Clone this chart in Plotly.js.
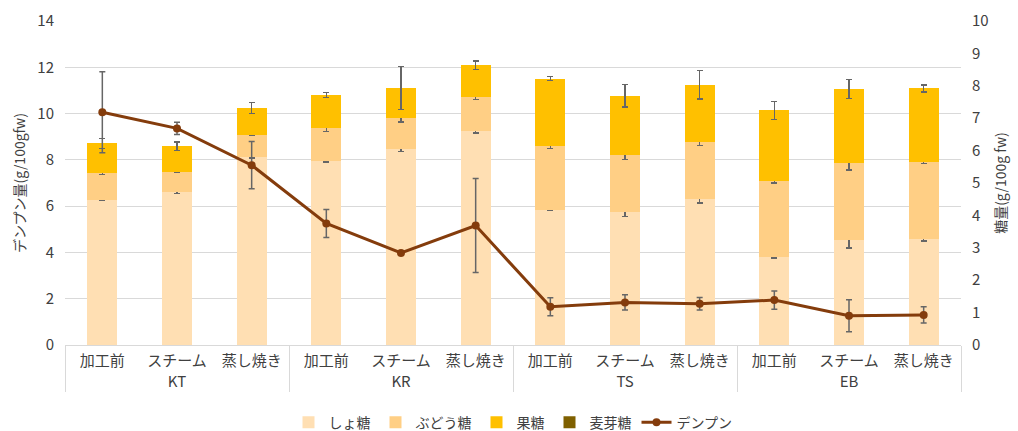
<!DOCTYPE html>
<html>
<head>
<meta charset="utf-8">
<script src="https://cdn.plot.ly/plotly-3.0.1.min.js"></script>
<style>body{margin:0;padding:0;background:#fff;} #chart{width:1018px;height:431px;}</style>
</head>
<body>
<div id="chart"></div>
<script>
// Data
const groups  = ['KT','KT','KT','KR','KR','KR','TS','TS','TS','EB','EB','EB'];
const methods = ['加工前','スチーム','蒸し焼き','加工前','スチーム','蒸し焼き','加工前','スチーム','蒸し焼き','加工前','スチーム','蒸し焼き'];
const sucrose     = [4.49,4.73,5.80,5.69,6.04,6.62,4.17,4.10,4.52,2.71,3.23,3.28];
const sucroseErr  = [0.02,0.05,0.03,0.04,0.06,0.07,0.01,0.13,0.14,0.02,0.23,0.07];
const glucose     = [0.82,0.62,0.68,1.02,0.97,1.03,1.97,1.75,1.76,2.35,2.39,2.38];
const glucoseErr  = [0.05,0.03,0.02,0.12,0.13,0.07,0.07,0.12,0.13,0.06,0.22,0.06];
const fructose    = [0.91,0.78,0.84,1.01,0.92,0.98,2.08,1.84,1.76,2.18,2.28,2.26];
const fructoseErr = [0.15,0.13,0.17,0.08,0.66,0.13,0.06,0.35,0.44,0.28,0.29,0.11];
const maltose     = [0,0,0,0,0,0,0,0,0,0,0,0];
const starch      = [10.06,9.36,7.77,5.25,3.98,5.16,1.65,1.84,1.78,1.94,1.26,1.30];
const starchErr   = [1.75,0.26,1.02,0.60,0.05,2.03,0.39,0.33,0.27,0.39,0.69,0.35];

const x = [groups, methods];
const errStyle = (arr) => ({type:'data', array:arr, visible:true, color:'#666666', thickness:1.5, width:3});
const FONT = '"Noto Sans CJK JP", "Noto Sans", sans-serif';

const traces = [
  {type:'bar', name:'しょ糖', x:x, y:sucrose, yaxis:'y', marker:{color:'#FFDFB3'}, error_y:errStyle(sucroseErr)},
  {type:'bar', name:'ぶどう糖', x:x, y:glucose, yaxis:'y', marker:{color:'#FFCF85'}, error_y:errStyle(glucoseErr)},
  {type:'bar', name:'果糖', x:x, y:fructose, yaxis:'y', marker:{color:'#FFC000'}, error_y:errStyle(fructoseErr)},
  {type:'bar', name:'麦芽糖', x:x, y:maltose, yaxis:'y', marker:{color:'#7F6000'}},
  {type:'scatter', mode:'lines+markers', name:'デンプン', x:x, y:starch, yaxis:'y2',
   line:{color:'#843C0C', width:3}, marker:{color:'#843C0C', size:8},
   error_y:errStyle(starchErr)}
];

const layout = {
  width:1018, height:431,
  margin:{l:65, r:57, t:21, b:86, autoexpand:false},
  paper_bgcolor:'#ffffff', plot_bgcolor:'#ffffff',
  font:{family:FONT, color:'#404040', size:14},
  barmode:'stack', bargap:0.6,
  showlegend:true,
  legend:{orientation:'h', x:0.5, xanchor:'center', y:-0.24, yanchor:'middle',
          font:{size:14, color:'#404040'}, traceorder:'normal'},
  xaxis:{type:'multicategory', automargin:false, range:[-0.5, 11.5], autorange:false,
         showline:true, linecolor:'#D9D9D9', linewidth:1,
         showdividers:true, dividercolor:'#D9D9D9', dividerwidth:1,
         tickfont:{size:15, color:'#404040'}, ticks:'', ticklabelstandoff:2},
  yaxis:{side:'right', automargin:false, range:[0,10], dtick:1, showgrid:false, zeroline:false,
         tickfont:{size:15, color:'#404040'}, ticks:'', ticklabelstandoff:10,
         title:{text:'糖量(g/100g fw)', font:{size:14, color:'#404040'}, standoff:8}},
  yaxis2:{side:'left', automargin:false, overlaying:'y', range:[0,14], dtick:2, showgrid:true, gridcolor:'#D9D9D9', gridwidth:1,
          zeroline:false, tickfont:{size:15, color:'#404040'}, ticks:'', ticklabelstandoff:10,
          title:{text:'デンプン量(g/100gfw)', font:{size:14, color:'#404040'}, standoff:8}}
};

Plotly.newPlot('chart', traces, layout, {displayModeBar:false, staticPlot:true});
</script>
</body>
</html>
